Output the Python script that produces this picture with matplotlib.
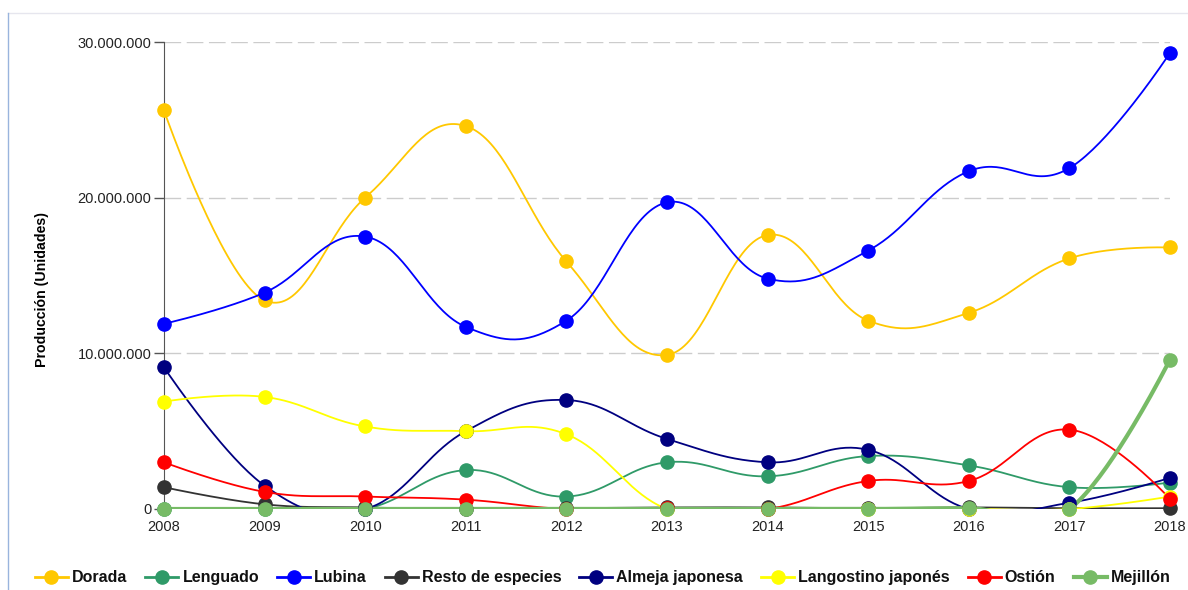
import numpy as np
import matplotlib
matplotlib.use("Agg")
import matplotlib.pyplot as plt
from matplotlib.lines import Line2D
from matplotlib.ticker import FuncFormatter

plt.rcParams['font.family'] = ['Liberation Sans', 'DejaVu Sans']

years = [2008, 2009, 2010, 2011, 2012, 2013, 2014, 2015, 2016, 2017, 2018]

# valores en millones de unidades
dorada = [25.6, 13.4, 20.0, 24.6, 15.9, 9.9, 17.6, 12.1, 12.6, 16.1, 16.8]
lenguado = [0.0, 0.0, 0.0, 2.5, 0.8, 3.0, 2.1, 3.4, 2.8, 1.4, 1.7]
lubina = [11.9, 13.9, 17.5, 11.7, 12.1, 19.7, 14.8, 16.6, 21.7, 21.9, 29.3]
resto = [1.4, 0.3, 0.1, 0.0, 0.05, 0.1, 0.1, 0.05, 0.1, 0.05, 0.05]
almeja = [9.1, 1.5, 0.0, 5.0, 7.0, 4.5, 3.0, 3.8, 0.0, 0.4, 2.0]
langostino = [6.9, 7.2, 5.3, 5.0, 4.8, 0.0, 0.0, 0.0, 0.0, 0.0, 0.8]
ostion = [3.0, 1.1, 0.8, 0.6, 0.0, 0.05, 0.0, 1.8, 1.8, 5.1, 0.65]
mejillon = [0.0, 0.0, 0.0, 0.0, 0.0, 0.0, 0.0, 0.0, 0.05, 0.0, 9.6]

series = [
    ("Dorada", dorada, "#FFC800", 1.3),
    ("Lenguado", lenguado, "#2F9A68", 1.3),
    ("Lubina", lubina, "#0000FF", 1.3),
    ("Resto de especies", resto, "#333333", 1.3),
    ("Almeja japonesa", almeja, "#000080", 1.3),
    ("Langostino japonés", langostino, "#FFFF00", 1.3),
    ("Ostión", ostion, "#FF0000", 1.3),
    ("Mejillón", mejillon, "#77BB66", 3.0),
]


def spline(xs, ys, k=0.4, steps=40):
    # curva suave: tangente = pendiente entre vecinos, puntos de control a k del tramo
    n = len(xs)
    tang = [0.0] * n
    for i in range(1, n - 1):
        tang[i] = (ys[i + 1] - ys[i - 1]) / (xs[i + 1] - xs[i - 1])
    t = np.linspace(0, 1, steps)
    outx, outy = [], []
    for i in range(n - 1):
        h = xs[i + 1] - xs[i]
        p0 = np.array([xs[i], ys[i]])
        p3 = np.array([xs[i + 1], ys[i + 1]])
        if i == 0:
            p1 = p0
        else:
            p1 = p0 + np.array([k * h, k * h * tang[i]])
        if i + 1 == n - 1:
            p2 = p3
        else:
            p2 = p3 - np.array([k * h, k * h * tang[i + 1]])
        pts = ((1 - t)[:, None] ** 3 * p0 + 3 * ((1 - t) ** 2 * t)[:, None] * p1
               + 3 * ((1 - t) * t ** 2)[:, None] * p2 + (t ** 3)[:, None] * p3)
        outx.extend(pts[:, 0])
        outy.extend(pts[:, 1])
    return np.array(outx), np.array(outy)


W, H = 1188, 590
fig = plt.figure(figsize=(11.88, 5.9), dpi=100)
ax = fig.add_axes([164 / W, 1 - 509 / H, (1170 - 164) / W, (509 - 42) / H])

for name, vals, col, lw in series:
    v = np.array(vals) * 1e6
    sx, sy = spline(years, list(v))
    ax.plot(sx, sy, color=col, lw=lw, zorder=3)
    ax.plot(years, v, "o", color=col, ms=9.5, clip_on=False, zorder=4)

ax.set_xlim(2008, 2018)
ax.set_ylim(0, 30e6)
ax.set_xticks(years)
ax.set_yticks([0, 10e6, 20e6, 30e6])
ax.yaxis.set_major_formatter(FuncFormatter(lambda v, p: f"{int(v):,}".replace(",", ".")))
ax.tick_params(axis="x", length=0, pad=8, labelsize=10.5, colors="#222222")
ax.tick_params(axis="y", length=7, width=1, color="#555555", labelsize=10.5, labelcolor="#222222", pad=2)

for v in [10e6, 20e6, 30e6]:
    ax.axhline(v, color="#cccccc", lw=1, ls=(0, (12, 4)), zorder=1)

for s in ["top", "right", "bottom"]:
    ax.spines[s].set_visible(False)
ax.spines["left"].set_color("#555555")

ax.set_ylabel("Producción (Unidades)", fontsize=10.2, fontweight="bold")
ax.yaxis.set_label_coords(-0.114, 0.469)

# marco
fig.add_artist(Line2D([8 / W, 1], [1 - 13 / H, 1 - 13 / H], color="#e6e6ee", lw=1))
fig.add_artist(Line2D([8 / W, 8 / W], [0, 1 - 13 / H], color="#99b4dd", lw=1))

# leyenda hecha a mano para que todos los textos queden en la misma línea base
renderer = fig.canvas.get_renderer()
x = 35
yc = 577
for name, vals, col, lw in series:
    fig.add_artist(Line2D([x / W, (x + 33) / W], [1 - yc / H] * 2, color=col, lw=max(lw, 2)))
    fig.add_artist(Line2D([(x + 16.5) / W], [1 - yc / H], color=col, marker="o", ms=9.5, ls=""))
    txt = fig.text((x + 37) / W, 1 - (yc + 5) / H, name, fontsize=11.5, fontweight="bold",
                   va="baseline", ha="left", color="#111111")
    bb = txt.get_window_extent(renderer)
    x = bb.x1 + 18

fig.savefig("out.png", dpi=100)
